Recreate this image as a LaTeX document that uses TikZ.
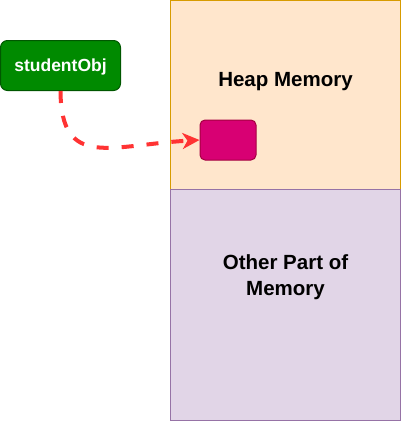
\documentclass[tikz,border=0pt]{standalone}
\usepackage{fontspec}
\setmainfont{Liberation Sans}
\usetikzlibrary{arrows.meta}
\definecolor{heapfill}{HTML}{FFE6CC}
\definecolor{heapline}{HTML}{D79B00}
\definecolor{otherfill}{HTML}{E1D5E7}
\definecolor{otherline}{HTML}{9673A6}
\definecolor{objfill}{HTML}{008A00}
\definecolor{objline}{HTML}{005700}
\definecolor{pinkfill}{HTML}{D80073}
\definecolor{pinkline}{HTML}{A50040}
\definecolor{arrowred}{HTML}{FF3333}
\begin{document}
\begin{tikzpicture}[x=1pt,y=-1pt,
  region/.style={draw, line width=1pt, inner sep=0pt, minimum width=230pt},
  label/.style={font=\bfseries\fontsize{20.5}{26}\selectfont, inner sep=0pt, align=center},
  objbox/.style={draw=objline, fill=objfill, line width=1pt, rounded corners=7pt,
    minimum width=120pt, minimum height=50pt, inner sep=0pt, text=white,
    font=\bfseries\fontsize{17.5}{21}\selectfont, text depth=0pt},
  pinkbox/.style={draw=pinkline, fill=pinkfill, line width=1pt, rounded corners=5pt,
    minimum width=56pt, minimum height=40pt, inner sep=0pt},
  refarrow/.style={draw=arrowred, line width=4pt, dash pattern=on 12pt off 13pt,
    -{Stealth[length=17pt, width=16pt, inset=5pt]}}
]
\useasboundingbox (0,0) rectangle (401,421);
\node[region, fill=heapfill, draw=heapline, minimum height=189pt] (heap) at (285.5,95) {};
\node[region, fill=otherfill, draw=otherline, minimum height=231pt] (other) at (285.5,305) {};
\node[label, anchor=base] (heaplabel) at (285.5,86.7) {Heap Memory};
\node[label] (otherlabel) at (285.5,277) {Other Part of\\Memory};
\node[objbox] (obj) at (60.5,65.5) {studentObj};
\node[pinkbox] (pink) at (228,140) {};
\draw[refarrow] (obj.south) .. controls (61,170) and (110,145) .. (pink.west);
\end{tikzpicture}
\end{document}
